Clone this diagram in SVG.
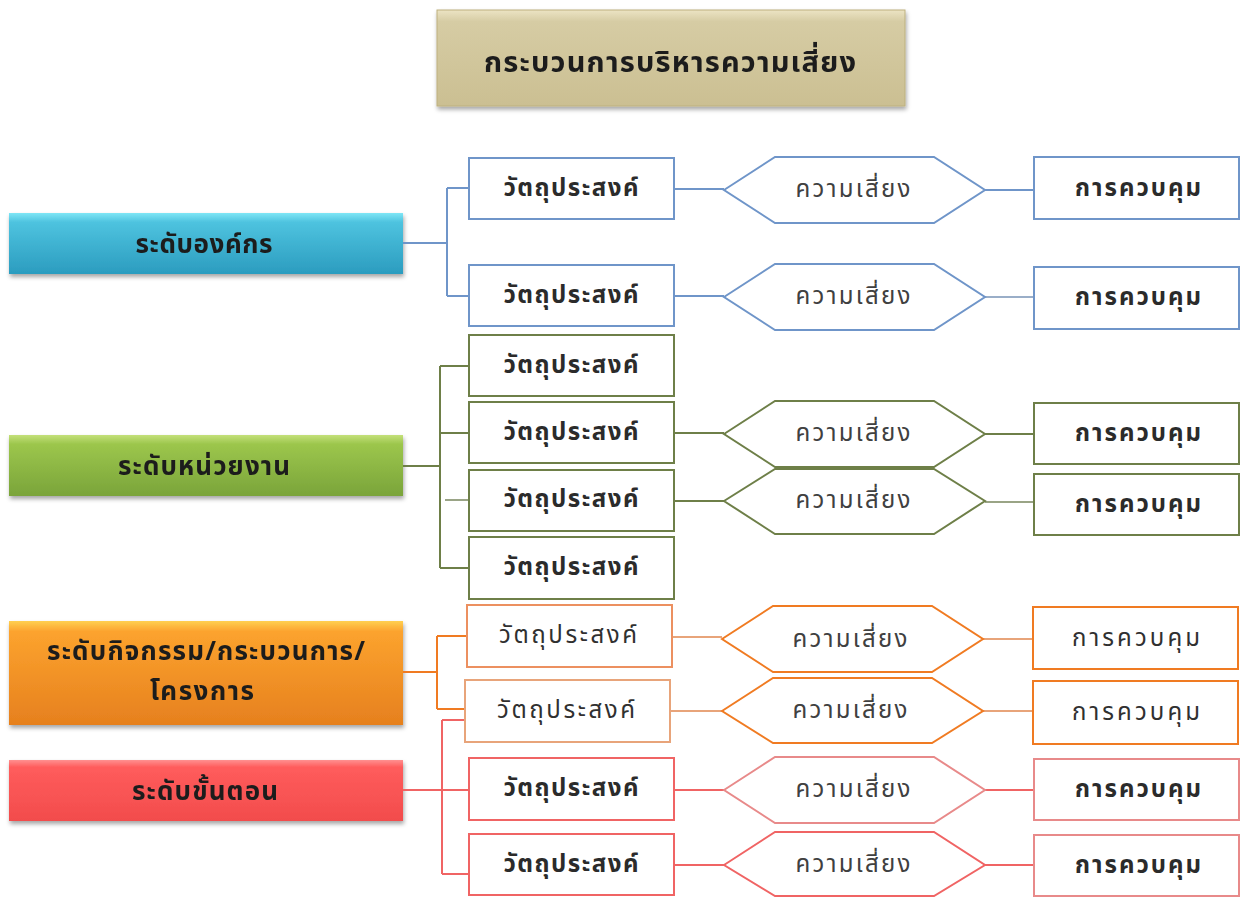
<svg xmlns="http://www.w3.org/2000/svg" width="1241" height="897" viewBox="0 0 1241 897">
<style>
text{font-family:"Noto Sans Thai","Tahoma","Leelawadee UI","DejaVu Sans","Noto Sans",sans-serif;text-anchor:middle;dominant-baseline:central;fill:#2b2b2b}
.lbl{font-size:26px;font-weight:bold;fill:#1e1e1e}
.t{font-size:24px;font-weight:bold}
.n{font-size:24px;font-weight:normal;fill:#404040}
.box{fill:#fff;stroke-width:2}
.c{fill:none;stroke-width:2}
.b{stroke:#6f95c9}.g{stroke:#6e7f48}.o{stroke:#f07b22}.ol{stroke:#e8a47a}.r{stroke:#f06464}.rl{stroke:#e88a8a}
</style>
<defs>
<filter id="sh" x="-10%" y="-20%" width="120%" height="150%"><feDropShadow dx="1" dy="3" stdDeviation="2" flood-color="#000" flood-opacity="0.35"/></filter>
<linearGradient id="gT" x1="0" y1="0" x2="0" y2="1"><stop offset="0" stop-color="#ece4c4"/><stop offset="0.12" stop-color="#d6cca4"/><stop offset="1" stop-color="#cbbf92"/></linearGradient>
<linearGradient id="gB" x1="0" y1="0" x2="0" y2="1"><stop offset="0" stop-color="#7fe6f6"/><stop offset="0.15" stop-color="#4ec3df"/><stop offset="1" stop-color="#2b9cbf"/></linearGradient>
<linearGradient id="gG" x1="0" y1="0" x2="0" y2="1"><stop offset="0" stop-color="#c4e07a"/><stop offset="0.15" stop-color="#9cc64c"/><stop offset="1" stop-color="#7aa43a"/></linearGradient>
<linearGradient id="gO" x1="0" y1="0" x2="0" y2="1"><stop offset="0" stop-color="#ffd050"/><stop offset="0.1" stop-color="#fca32e"/><stop offset="1" stop-color="#e6801e"/></linearGradient>
<linearGradient id="gR" x1="0" y1="0" x2="0" y2="1"><stop offset="0" stop-color="#ff9090"/><stop offset="0.12" stop-color="#ff5c5c"/><stop offset="1" stop-color="#f24c4c"/></linearGradient>
</defs>

<g id="title" filter="url(#sh)"><rect x="437" y="10" width="468" height="96" fill="url(#gT)" stroke="#bdb07e" stroke-width="1"/><text class="lbl" x="670" y="63" style="font-size:29px" textLength="372" lengthAdjust="spacing">กระบวนการบริหารความเสี่ยง</text></g>

<g id="lvl-org" filter="url(#sh)"><rect x="9" y="213" width="394" height="61" fill="url(#gB)"/><text class="lbl" x="204" y="245" textLength="137" lengthAdjust="spacing">ระดับองค์กร</text></g>
<g id="lvl-unit" filter="url(#sh)"><rect x="9" y="435" width="394" height="61" fill="url(#gG)"/><text class="lbl" x="204" y="467" textLength="172" lengthAdjust="spacing">ระดับหน่วยงาน</text></g>
<g id="lvl-act" filter="url(#sh)"><rect x="9" y="621" width="394" height="104" fill="url(#gO)"/><text class="lbl" x="206" y="652" textLength="318" lengthAdjust="spacing">ระดับกิจกรรม/กระบวนการ/</text><text class="lbl" x="202" y="692" textLength="104" lengthAdjust="spacing">โครงการ</text></g>
<g id="lvl-step" filter="url(#sh)"><rect x="9" y="760" width="394" height="61" fill="url(#gR)"/><text class="lbl" x="205" y="792" textLength="146" lengthAdjust="spacing">ระดับขั้นตอน</text></g>

<g id="connectors">
<path class="c b" d="M403 243H447M447 188V296M447 188H469M447 296H469"/>
<path class="c b" d="M674 189H724M985 190H1034M674 296H724"/>
<path class="c" stroke="#9aaec8" d="M985 297H1034"/>
<path class="c g" d="M403 466H440M440 366V568M440 366H469M440 433H469M440 568H469"/>
<path class="c" stroke="#9aa486" d="M445 500H469"/>
<path class="c g" d="M674 433H724M985 434H1034M674 501H724"/>
<path class="c" stroke="#9aa486" d="M985 502H1034"/>
<path class="c o" d="M403 672H437M437 636V709M437 636H467M437 709H465"/>
<path class="c ol" d="M672 637H722M983 639H1033M670 711H722M983 711H1033"/>
<path class="c r" d="M403 790H469M442 720V874M442 720H465M442 874H469"/>
<path class="c r" d="M674 790H724M985 790H1034M674 865H724M985 865H1034"/>
</g>

<g id="obj-b1"><rect class="box b" x="469" y="158" width="205" height="61"/><text class="t" x="571" y="189" textLength="135" lengthAdjust="spacing">วัตถุประสงค์</text></g>
<g id="obj-b2"><rect class="box b" x="469" y="265" width="205" height="61"/><text class="t" x="571" y="296" textLength="135" lengthAdjust="spacing">วัตถุประสงค์</text></g>
<g id="risk-b1"><polygon class="box b" points="724,190 775,157 934,157 985,190 934,223 775,223"/><text class="n" x="853" y="190" textLength="115" lengthAdjust="spacing">ความเสี่ยง</text></g>
<g id="risk-b2"><polygon class="box b" points="724,297 775,264 934,264 985,297 934,330 775,330"/><text class="n" x="853" y="297" textLength="115" lengthAdjust="spacing">ความเสี่ยง</text></g>
<g id="ctl-b1"><rect class="box b" x="1034" y="157" width="205" height="62"/><text class="t" x="1138" y="189" textLength="126" lengthAdjust="spacing">การควบคุม</text></g>
<g id="ctl-b2"><rect class="box b" x="1034" y="267" width="205" height="62"/><text class="t" x="1138" y="298" textLength="126" lengthAdjust="spacing">การควบคุม</text></g>

<g id="obj-g1"><rect class="box g" x="469" y="335" width="205" height="61"/><text class="t" x="571" y="366" textLength="135" lengthAdjust="spacing">วัตถุประสงค์</text></g>
<g id="obj-g2"><rect class="box g" x="469" y="402" width="205" height="61"/><text class="t" x="571" y="433" textLength="135" lengthAdjust="spacing">วัตถุประสงค์</text></g>
<g id="obj-g3"><rect class="box g" x="469" y="470" width="205" height="61"/><text class="t" x="571" y="500" textLength="135" lengthAdjust="spacing">วัตถุประสงค์</text></g>
<g id="obj-g4"><rect class="box g" x="469" y="537" width="205" height="62"/><text class="t" x="571" y="568" textLength="135" lengthAdjust="spacing">วัตถุประสงค์</text></g>
<g id="risk-g1"><polygon class="box g" points="724,434 775,401 934,401 985,434 934,467 775,467"/><text class="n" x="853" y="434" textLength="115" lengthAdjust="spacing">ความเสี่ยง</text></g>
<g id="risk-g2"><polygon class="box g" points="724,501 775,469 934,469 985,501 934,534 775,534"/><text class="n" x="853" y="501" textLength="115" lengthAdjust="spacing">ความเสี่ยง</text></g>
<g id="ctl-g1"><rect class="box g" x="1034" y="403" width="205" height="61"/><text class="t" x="1138" y="434" textLength="126" lengthAdjust="spacing">การควบคุม</text></g>
<g id="ctl-g2"><rect class="box g" x="1034" y="474" width="205" height="61"/><text class="t" x="1138" y="505" textLength="126" lengthAdjust="spacing">การควบคุม</text></g>

<g id="obj-o1"><rect class="box ol" x="467" y="605" width="205" height="62" style="stroke:#ec9060"/><text class="n" x="568" y="636" style="fill:#303030" textLength="138" lengthAdjust="spacing">วัตถุประสงค์</text></g>
<g id="obj-o2"><rect class="box ol" x="465" y="680" width="205" height="62"/><text class="n" x="566" y="711" style="fill:#303030" textLength="138" lengthAdjust="spacing">วัตถุประสงค์</text></g>
<g id="risk-o1"><polygon class="box o" points="722,639 773,606 932,606 983,639 932,672 773,672"/><text class="n" x="850" y="640" textLength="115" lengthAdjust="spacing">ความเสี่ยง</text></g>
<g id="risk-o2"><polygon class="box o" points="722,711 773,678 932,678 983,711 932,743 773,743"/><text class="n" x="850" y="711" textLength="115" lengthAdjust="spacing">ความเสี่ยง</text></g>
<g id="ctl-o1"><rect class="box o" x="1033" y="607" width="205" height="62"/><text class="n" x="1136" y="639" style="fill:#303030" textLength="128" lengthAdjust="spacing">การควบคุม</text></g>
<g id="ctl-o2"><rect class="box o" x="1033" y="681" width="205" height="63"/><text class="n" x="1136" y="713" style="fill:#303030" textLength="128" lengthAdjust="spacing">การควบคุม</text></g>

<g id="obj-r1"><rect class="box r" x="469" y="758" width="205" height="62"/><text class="t" x="571" y="789" textLength="135" lengthAdjust="spacing">วัตถุประสงค์</text></g>
<g id="obj-r2"><rect class="box r" x="469" y="834" width="205" height="61"/><text class="t" x="571" y="865" textLength="135" lengthAdjust="spacing">วัตถุประสงค์</text></g>
<g id="risk-r1"><polygon class="box rl" points="724,790 775,757 934,757 985,790 934,823 775,823"/><text class="n" x="853" y="790" textLength="115" lengthAdjust="spacing">ความเสี่ยง</text></g>
<g id="risk-r2"><polygon class="box r" points="724,865 775,832 934,832 985,865 934,896 775,896"/><text class="n" x="853" y="865" textLength="115" lengthAdjust="spacing">ความเสี่ยง</text></g>
<g id="ctl-r1"><rect class="box rl" x="1034" y="759" width="205" height="61"/><text class="t" x="1138" y="790" textLength="126" lengthAdjust="spacing">การควบคุม</text></g>
<g id="ctl-r2"><rect class="box rl" x="1034" y="835" width="205" height="61"/><text class="t" x="1138" y="866" textLength="126" lengthAdjust="spacing">การควบคุม</text></g>
</svg>
